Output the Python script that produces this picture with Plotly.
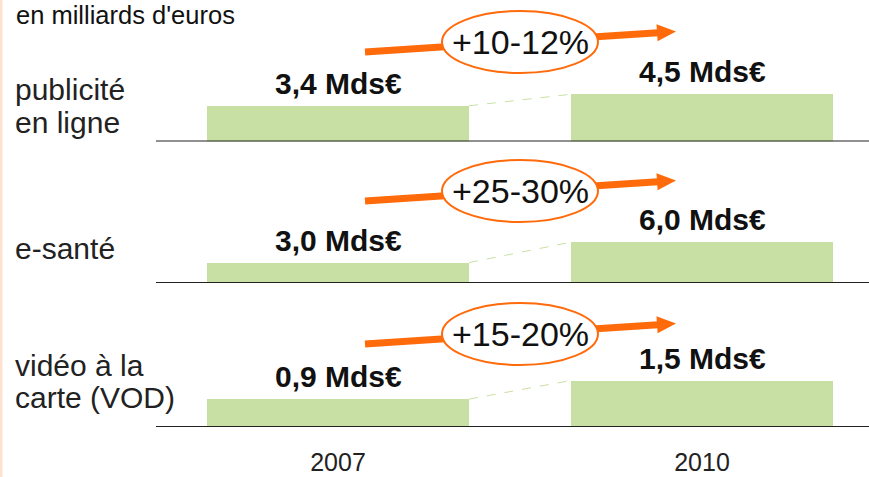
import plotly.graph_objects as go

# ---------------- data ----------------
years = ["2007", "2010"]
segments = ["publicité\nen ligne", "e-santé", "vidéo à la\ncarte (VOD)"]
values_2007 = [3.4, 3.0, 0.9]
values_2010 = [4.5, 6.0, 1.5]
growth = ["+10-12%", "+25-30%", "+15-20%"]
unit_note = "en milliards d'euros"

# ---------------- layout helpers ----------------
W, H = 869, 477
FONT = "Liberation Sans, Arial, Helvetica, sans-serif"
GREEN = "#C9E0A5"
ORANGE = "#FF6A0A"

CAT0_PX, CAT1_PX = 338.0, 702.0        # pixel centres of the two categories
UNIT_PX = CAT1_PX - CAT0_PX
BAR_W = 262.0 / UNIT_PX

panel_base_px = [141.5, 283.0, 427.0]
panel_top_px = [0.0, 150.0, 290.0]
px_per_unit = [10.5, 6.8, 31.0]
ellipse_cy_px = [42.0, 191.0, 334.0]
label_baselines_px = [[100.0, 133.0], [259.0], [376.0, 408.0]]

LABEL_SIZE = 30
VALUE_SIZE = 30
GROWTH_SIZE = 34
NOTE_SIZE = 25.5


def px_x(px):
    return px / W


def px_y(py):
    return 1 - py / H


x_range = [(0 - CAT0_PX) / UNIT_PX, (W - CAT0_PX) / UNIT_PX]

fig = go.Figure()
layout_axes = {}
annotations = []
shapes = []

# peach strip on the left edge
shapes.append(dict(type="rect", xref="paper", yref="paper", x0=0, x1=px_x(2.5), y0=0, y1=1,
                   fillcolor="#FDE3CF", line=dict(width=0), layer="below"))

for i, seg in enumerate(segments):
    yname = "y" if i == 0 else f"y{i+1}"
    axkey = "yaxis" if i == 0 else f"yaxis{i+1}"
    dom0 = px_y(panel_base_px[i])
    dom1 = px_y(panel_top_px[i])
    span_units = (panel_base_px[i] - panel_top_px[i]) / px_per_unit[i]
    layout_axes[axkey] = dict(domain=[dom0, dom1], range=[0, span_units], visible=False,
                              fixedrange=True)

    vals = [values_2007[i], values_2010[i]]
    fig.add_trace(go.Bar(x=[0, 1], y=vals, width=BAR_W, marker=dict(color=GREEN, line=dict(width=0)),
                         xaxis="x", yaxis=yname, hoverinfo="skip"))
    # dashed connector between bar tops
    fig.add_trace(go.Scatter(x=[0 + BAR_W / 2, 1 - BAR_W / 2], y=vals, mode="lines",
                             line=dict(color=GREEN, width=1, dash="dash"),
                             xaxis="x", yaxis=yname, hoverinfo="skip"))
    # value labels
    for j, v in enumerate(vals):
        annotations.append(dict(x=j, y=v, xref="x", yref=yname, yanchor="bottom", xanchor="center",
                                yshift=4, showarrow=False,
                                text="<b>" + f"{v:.1f}".replace(".", ",") + " Mds€</b>",
                                font=dict(family=FONT, size=VALUE_SIZE, color="#111")))
    # baseline
    shapes.append(dict(type="line", xref="paper", yref=yname, x0=px_x(156), x1=1, y0=0, y1=0,
                       line=dict(color="#222", width=2), layer="above"))

    # growth arrow + ellipse
    cy = ellipse_cy_px[i]
    sx, sy = 365.0, cy + 10
    tx, ty = 676.0, cy - 10.5
    dx, dy = tx - sx, ty - sy
    L = (dx * dx + dy * dy) ** 0.5
    ux, uy = dx / L, dy / L
    px_, py_ = -uy, ux
    hl, hw = 19.0, 8.5
    bx, by = tx - hl * ux, ty - hl * uy
    shapes.append(dict(type="line", xref="paper", yref="paper",
                       x0=px_x(sx), y0=px_y(sy), x1=px_x(bx + ux), y1=px_y(by + uy),
                       line=dict(color=ORANGE, width=7), layer="above"))
    p1 = (bx + hw * px_, by + hw * py_)
    p2 = (bx - hw * px_, by - hw * py_)
    path = (f"M {px_x(tx)} {px_y(ty)} L {px_x(p1[0])} {px_y(p1[1])} "
            f"L {px_x(p2[0])} {px_y(p2[1])} Z")
    shapes.append(dict(type="path", xref="paper", yref="paper", path=path,
                       fillcolor=ORANGE, line=dict(width=0), layer="above"))
    shapes.append(dict(type="circle", xref="paper", yref="paper",
                       x0=px_x(442), x1=px_x(598), y0=px_y(cy + 31), y1=px_y(cy - 31),
                       fillcolor="white", line=dict(color=ORANGE, width=2), layer="above"))
    annotations.append(dict(x=px_x(520), y=px_y(cy), xref="paper", yref="paper",
                            xanchor="center", yanchor="middle", showarrow=False,
                            text=growth[i], font=dict(family=FONT, size=GROWTH_SIZE, color="#111")))

    # segment labels (one annotation per line)
    for line_txt, base in zip(seg.split("\n"), label_baselines_px[i]):
        annotations.append(dict(x=px_x(13), y=px_y(base - 0.35 * LABEL_SIZE), xref="paper", yref="paper",
                                xanchor="left", yanchor="middle", showarrow=False,
                                text=line_txt, font=dict(family=FONT, size=LABEL_SIZE, color="#222")))

annotations.append(dict(x=px_x(15), y=1, xref="paper", yref="paper",
                        xanchor="left", yanchor="top", showarrow=False, text=unit_note,
                        borderpad=0, font=dict(family=FONT, size=NOTE_SIZE, color="#111")))

fig.update_layout(
    width=W, height=H,
    margin=dict(l=0, r=0, t=0, b=0),
    paper_bgcolor="white", plot_bgcolor="white",
    showlegend=False,
    bargap=0,
    xaxis=dict(range=x_range, domain=[0, 1], anchor="y3", tickvals=[0, 1], ticktext=years,
               showgrid=False, zeroline=False, showline=False, ticks="",
               tickfont=dict(family=FONT, size=25, color="#222"), ticklabelstandoff=18,
               fixedrange=True),
    annotations=annotations,
    shapes=shapes,
    **layout_axes,
)

fig.write_html(
    "out.html",
    config={"displayModeBar": False},
    post_script="document.body.style.margin='0';document.body.style.overflow='hidden';",
)
